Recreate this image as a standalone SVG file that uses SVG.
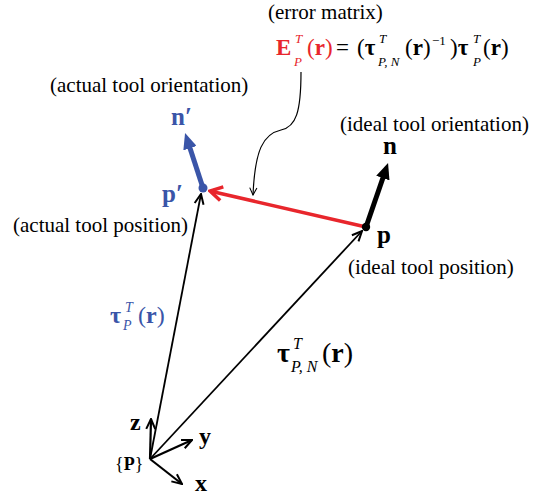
<svg xmlns="http://www.w3.org/2000/svg" width="538" height="496" viewBox="0 0 538 496" font-family="'Liberation Serif','Times New Roman','DejaVu Serif',serif">
<style>
text{font-family:'Liberation Serif','Times New Roman','DejaVu Serif',serif;fill:#000}
.lbl{font-size:21px}
.b{font-weight:bold}
.i{font-style:italic}
.blue{fill:#3a55a8}
.red{fill:#e8262c}
.thin{stroke:#000;stroke-width:1.8;fill:none}
.axis{stroke:#000;stroke-width:2.2;fill:none}
</style>
<defs>
<marker id="open" viewBox="0 0 12 12" refX="11" refY="6" markerWidth="12" markerHeight="12" markerUnits="userSpaceOnUse" orient="auto"><path d="M1,1.5 L11,6 L1,10.5" fill="none" stroke="#000" stroke-width="2"/></marker>
<marker id="openSmall" viewBox="0 0 10 10" refX="9" refY="5" markerWidth="9" markerHeight="9" markerUnits="userSpaceOnUse" orient="auto"><path d="M1,1 L9,5 L1,9" fill="none" stroke="#000" stroke-width="1.2"/></marker>
<marker id="redHead" viewBox="0 0 16 18" refX="12" refY="9" markerWidth="16" markerHeight="18" markerUnits="userSpaceOnUse" orient="auto"><path d="M2,2 L14,9 L2,16" fill="none" stroke="#e8262c" stroke-width="3.5"/></marker>
<marker id="fillBlack" viewBox="0 0 16 14" refX="2" refY="7" markerWidth="16" markerHeight="14" markerUnits="userSpaceOnUse" orient="auto"><path d="M0,0 L16,7 L0,14 Z" fill="#000"/></marker>
<marker id="fillBlue" viewBox="0 0 16 14" refX="2" refY="7" markerWidth="16" markerHeight="14" markerUnits="userSpaceOnUse" orient="auto"><path d="M0,0 L16,7 L0,14 Z" fill="#3a55a8"/></marker>
</defs>

<g id="connectors">
<line x1="150" y1="459" x2="201" y2="194" class="thin" marker-end="url(#open)"/>
<line x1="150" y1="459" x2="362" y2="231" class="thin" marker-end="url(#open)"/>
<line x1="366" y1="227" x2="212" y2="191.5" stroke="#e8262c" stroke-width="3.5" marker-end="url(#redHead)"/>
<path d="M301,72 C301,112 296,127 281,130 C263,134 255,150 253,195" stroke="#000" stroke-width="1.2" fill="none" marker-end="url(#openSmall)"/>
</g>

<g id="frame-P">
<line x1="150" y1="459" x2="151" y2="419" class="axis" marker-end="url(#open)"/>
<line x1="150" y1="459" x2="192" y2="440" class="axis" marker-end="url(#open)"/>
<line x1="150" y1="459" x2="182" y2="484" class="axis" marker-end="url(#open)"/>
<text x="130" y="430" class="b" font-size="24">z</text>
<text x="199" y="444" class="b" font-size="24">y</text>
<text x="195" y="491" class="b" font-size="24">x</text>
<text x="115" y="470" font-size="18">{<tspan class="b">P</tspan>}</text>
</g>

<g id="ideal-tool">
<line x1="366" y1="227" x2="383.5" y2="176.2" stroke="#000" stroke-width="5" marker-end="url(#fillBlack)"/>
<circle cx="366" cy="227" r="4.2" fill="#000"/>
<text x="383" y="154" class="b" font-size="25">n</text>
<text x="377" y="243" class="b" font-size="25">p</text>
<text x="340" y="131" class="lbl">(ideal tool orientation)</text>
<text x="348" y="274" class="lbl">(ideal tool position)</text>
</g>

<g id="actual-tool">
<line x1="203" y1="188" x2="189.4" y2="146.3" stroke="#3a55a8" stroke-width="5" marker-end="url(#fillBlue)"/>
<circle cx="203" cy="188" r="4.5" fill="#3a55a8"/>
<text x="171" y="125" class="b blue" font-size="25">n′</text>
<text x="162" y="202" class="b blue" font-size="25">p′</text>
<text x="50" y="92" class="lbl">(actual tool orientation)</text>
<text x="13" y="232" class="lbl">(actual tool position)</text>
</g>

<g id="error-matrix">
<text x="268" y="19" class="lbl">(error matrix)</text>
<text x="276" y="55" class="b red" font-size="23">E</text>
<text x="295" y="43" class="i red" font-size="13">T</text>
<text x="294" y="66" class="i red" font-size="13">P</text>
<text x="307" y="55" class="red" font-size="23">(<tspan class="b">r</tspan>)</text>
<text x="336" y="55" font-size="23">=</text>
<text x="357" y="55" font-size="23">(<tspan class="b">τ</tspan></text>
<text x="379" y="43" class="i" font-size="13">T</text>
<text x="378" y="66" class="i" font-size="13">P, N</text>
<text x="405" y="55" font-size="23">(<tspan class="b">r</tspan>)</text>
<text x="432" y="45" font-size="13">−1</text>
<text x="450" y="55" font-size="23">)<tspan class="b">τ</tspan></text>
<text x="473" y="43" class="i" font-size="13">T</text>
<text x="473" y="66" class="i" font-size="13">P</text>
<text x="483" y="55" font-size="23">(<tspan class="b">r</tspan>)</text>
</g>

<g id="tau-P">
<text x="110" y="323" class="b blue" font-size="24">τ</text>
<text x="125" y="312" class="i blue" font-size="14">T</text>
<text x="123" y="330" class="i blue" font-size="14">P</text>
<text x="138" y="323" class="blue" font-size="24">(<tspan class="b">r</tspan>)</text>
</g>

<g id="tau-PN">
<text x="277" y="362" class="b" font-size="28">τ</text>
<text x="293" y="349" class="i" font-size="16">T</text>
<text x="291" y="372" class="i" font-size="16">P, N</text>
<text x="322" y="362" font-size="28">(<tspan class="b">r</tspan>)</text>
</g>
</svg>
